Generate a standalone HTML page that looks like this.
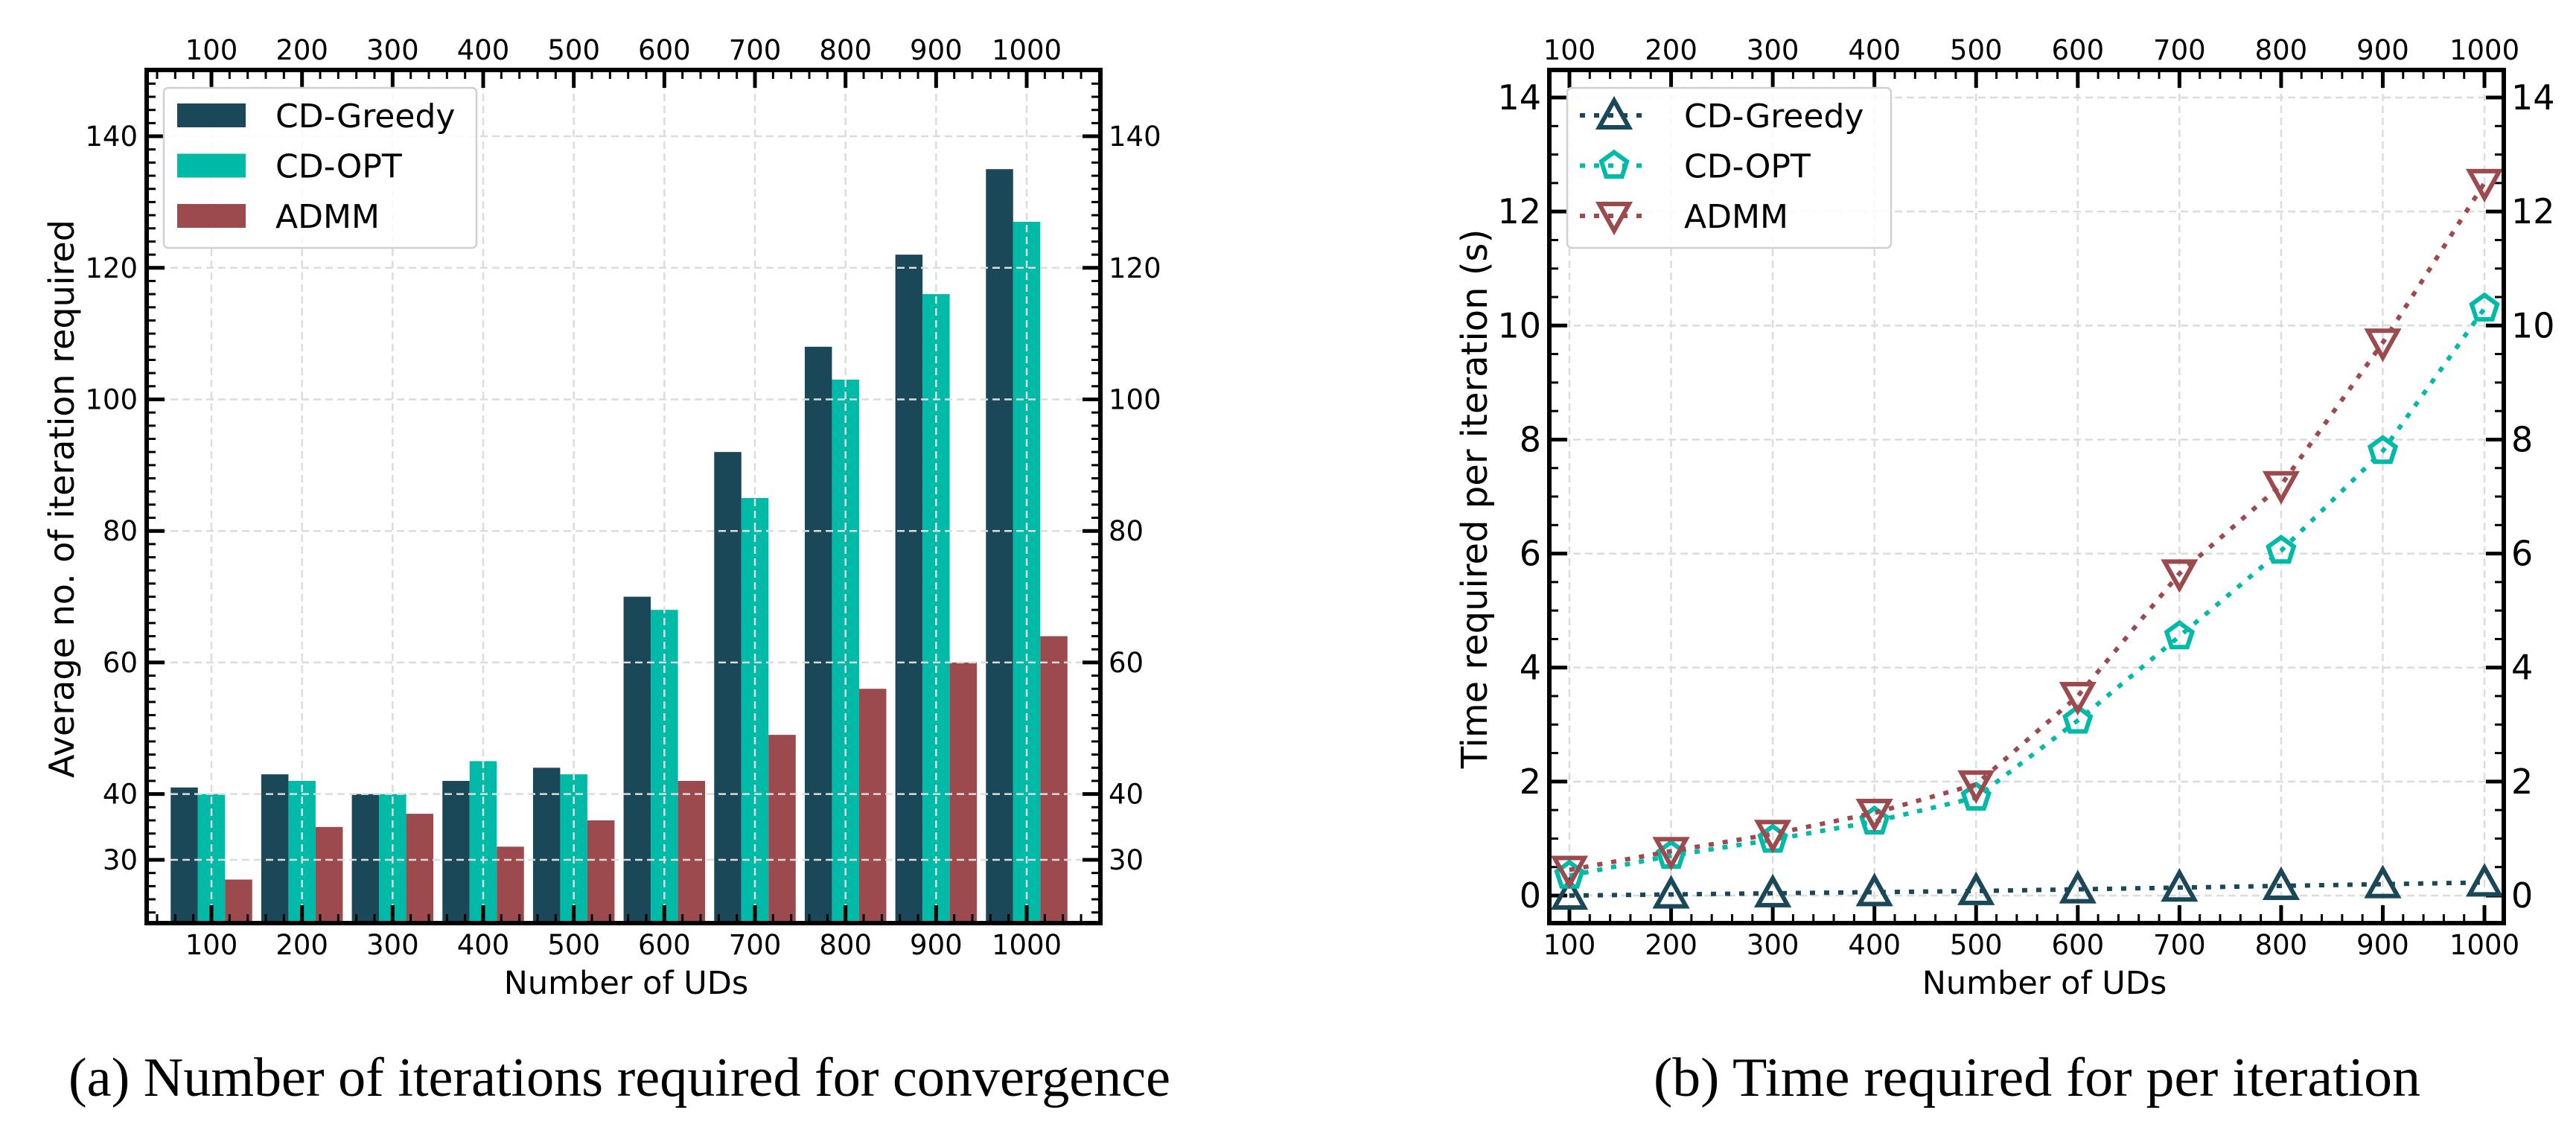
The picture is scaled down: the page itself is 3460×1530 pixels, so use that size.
<!DOCTYPE html>
<html><head><meta charset="utf-8"><style>
html,body{margin:0;padding:0;background:#fff;}
svg{display:block;}
text{font-family:"DejaVu Sans","Liberation Sans",sans-serif;fill:#000;}
.cap{font-family:"Liberation Serif",serif;}
</style></head><body>
<svg id="fig" width="3460" height="1530" viewBox="0 0 3460 1530" xmlns="http://www.w3.org/2000/svg">
<g id="chartA"></g>
<g id="chartB"></g>
<text class="cap" x="832" y="1472" font-size="74" text-anchor="middle" textLength="1480" lengthAdjust="spacingAndGlyphs">(a)  Number of iterations required for convergence</text>
<text class="cap" x="2736" y="1472" font-size="74" text-anchor="middle" textLength="1030" lengthAdjust="spacingAndGlyphs">(b)  Time required for per iteration</text>
</svg>
<script>
const categories = [100,200,300,400,500,600,700,800,900,1000];
const seriesNames = ["CD-Greedy","CD-OPT","ADMM"];
const barGreedy = [41,43,40,42,44,70,92,108,122,135];
const barOpt = [40,42,40,45,43,68,85,103,116,127];
const barAdmm = [27,35,37,32,36,42,49,56,60,64];
const barYTicks = [30,40,60,80,100,120,140];
const timeGreedy = [0,0.02,0.04,0.06,0.08,0.11,0.14,0.17,0.2,0.23];
const timeOpt = [0.35,0.7,0.98,1.3,1.72,3.07,4.55,6.05,7.8,10.3];
const timeAdmm = [0.45,0.78,1.08,1.45,1.95,3.5,5.65,7.2,9.7,12.5];
const timeYTicks = [0,2,4,6,8,10,12,14];

const NS="http://www.w3.org/2000/svg";
const colors=["#1a4858","#00baa8","#9c4a4e"];
function mk(parent,tag,attrs,txt){const e=document.createElementNS(NS,tag);for(const k in attrs)e.setAttribute(k,attrs[k]);if(txt!==undefined)e.textContent=txt;parent.appendChild(e);return e;}

// ---------- Chart A ----------
(function(){
const g=document.getElementById('chartA');
const L=197,R=1478,T=94,B=1240;
const xA=v=>284+(v-100)*1.2167;
const yA=v=>1155-(v-30)*8.836;
const bw=36.5;
const sets=[barGreedy,barOpt,barAdmm];
sets.forEach((arr,si)=>{
 arr.forEach((v,i)=>{
  const cx=xA(categories[i])+(si-1)*bw;
  const r=mk(g,'rect',{x:cx-bw/2,y:yA(v),width:bw,height:B-yA(v),fill:colors[si]});
  
  
 });
});
barYTicks.forEach(v=>{const l=mk(g,'line',{x1:L,x2:R,y1:yA(v),y2:yA(v),stroke:'#dcdcdc','stroke-width':2.5,'stroke-dasharray':'10 6'});
 });
categories.forEach(v=>{const l=mk(g,'line',{x1:xA(v),x2:xA(v),y1:T,y2:B,stroke:'#dcdcdc','stroke-width':2.5,'stroke-dasharray':'10 6'});
 });
for(let v=20;v<=1100;v+=20){const x=xA(v);if(x<L+2||x>R-2)continue;const maj=v%100===0&&v>=100&&v<=1000;const len=maj?24:12,w=maj?5:3;
 mk(g,'line',{x1:x,x2:x,y1:B,y2:B-len,stroke:'#000','stroke-width':w});mk(g,'line',{x1:x,x2:x,y1:T,y2:T+len,stroke:'#000','stroke-width':w});}
for(let v=22;v<=150;v+=2){const y=yA(v);if(y<T+2||y>B-2)continue;const maj=barYTicks.includes(v);const len=maj?24:12,w=maj?5:3;
 mk(g,'line',{x1:L,x2:L+len,y1:y,y2:y,stroke:'#000','stroke-width':w});mk(g,'line',{x1:R,x2:R-len,y1:y,y2:y,stroke:'#000','stroke-width':w});}
categories.forEach(v=>{
 const t=mk(g,'text',{x:xA(v),y:1282,'font-size':37,'text-anchor':'middle'},String(v));
 const t2=mk(g,'text',{x:xA(v),y:80,'font-size':37,'text-anchor':'middle'},String(v));
});
barYTicks.forEach(v=>{
 const t=mk(g,'text',{x:185,y:yA(v)+13,'font-size':37,'text-anchor':'end'},String(v));
 const t2=mk(g,'text',{x:1489,y:yA(v)+13,'font-size':37,'text-anchor':'start'},String(v));
});
const sp=mk(g,'rect',{x:L,y:T,width:R-L,height:B-T,fill:'none',stroke:'#000','stroke-width':6});

const xl=mk(g,'text',{x:841,y:1335,'font-size':43,'text-anchor':'middle'},'Number of UDs');

const yl=mk(g,'text',{x:0,y:0,'font-size':46,'text-anchor':'middle',transform:'translate(99,670) rotate(-90)'},'Average no. of iteration required');

const lg=mk(g,'g',{});
mk(lg,'rect',{x:220,y:118,width:420,height:215,rx:6,fill:'rgba(255,255,255,0.85)',stroke:'#d0d0d0','stroke-width':2.5});
seriesNames.forEach((n,i)=>{const cy=155+i*67.5;
 const e=mk(lg,'g',{});
 mk(e,'rect',{x:238,y:cy-16,width:92,height:32,fill:colors[i]});
 mk(e,'text',{x:370,y:cy+16,'font-size':44},n);});
})();

// ---------- Chart B ----------
(function(){
const g=document.getElementById('chartB');
const L=2081,R=3363,T=94,B=1240;
const xB=v=>2108+(v-100)*1.3656;
const yB=v=>1203-v*76.57;
timeYTicks.forEach(v=>{const l=mk(g,'line',{x1:L,x2:R,y1:yB(v),y2:yB(v),stroke:'#dcdcdc','stroke-width':2.5,'stroke-dasharray':'10 6'});
 });
categories.forEach(v=>{const l=mk(g,'line',{x1:xB(v),x2:xB(v),y1:T,y2:B,stroke:'#dcdcdc','stroke-width':2.5,'stroke-dasharray':'10 6'});
 });
for(let v=80;v<=1020;v+=20){const x=xB(v);if(x<L+2||x>R-2)continue;const maj=v%100===0;const len=maj?24:12,w=maj?5:3;
 mk(g,'line',{x1:x,x2:x,y1:B,y2:B-len,stroke:'#000','stroke-width':w});mk(g,'line',{x1:x,x2:x,y1:T,y2:T+len,stroke:'#000','stroke-width':w});}
for(let k=-1;k<=29;k++){const v=k*0.5;const y=yB(v);if(y<T+2||y>B-2)continue;const maj=k%4===0;const len=maj?24:12,w=maj?5:3;
 mk(g,'line',{x1:L,x2:L+len,y1:y,y2:y,stroke:'#000','stroke-width':w});mk(g,'line',{x1:R,x2:R-len,y1:y,y2:y,stroke:'#000','stroke-width':w});}
categories.forEach(v=>{
 const t=mk(g,'text',{x:xB(v),y:1282,'font-size':37,'text-anchor':'middle'},String(v));
 const t2=mk(g,'text',{x:xB(v),y:80,'font-size':37,'text-anchor':'middle'},String(v));
});
timeYTicks.forEach(v=>{
 const t=mk(g,'text',{x:2070,y:yB(v)+16,'font-size':46,'text-anchor':'end'},String(v));
 const t2=mk(g,'text',{x:3373,y:yB(v)+16,'font-size':46,'text-anchor':'start'},String(v));
});
function marker(parent,kind,cx,cy,c){
 if(kind===0) return mk(parent,'polygon',{points:`${cx},${cy-20} ${cx+20},${cy+16} ${cx-20},${cy+16}`,fill:'none',stroke:c,'stroke-width':6,'stroke-linejoin':'miter'});
 if(kind===2) return mk(parent,'polygon',{points:`${cx},${cy+20} ${cx+20},${cy-16} ${cx-20},${cy-16}`,fill:'none',stroke:c,'stroke-width':6});
 const pts=[];for(let k=0;k<5;k++){const a=-Math.PI/2+k*2*Math.PI/5;pts.push((cx+18*Math.cos(a)).toFixed(1)+','+(cy+18*Math.sin(a)).toFixed(1));}
 return mk(parent,'polygon',{points:pts.join(' '),fill:'none',stroke:c,'stroke-width':6});
}
const series=[timeGreedy,timeOpt,timeAdmm];
series.forEach((arr,si)=>{
 const sg=mk(g,'g',{});
 const pts=arr.map((v,i)=>xB(categories[i]).toFixed(1)+','+yB(v).toFixed(1)).join(' ');
 mk(sg,'polyline',{points:pts,fill:'none',stroke:colors[si],'stroke-width':6,'stroke-dasharray':'7 12'});
 arr.forEach((v,i)=>{const m=marker(sg,si,xB(categories[i]),yB(v),colors[si]);});
});
const sp=mk(g,'rect',{x:L,y:T,width:R-L,height:B-T,fill:'none',stroke:'#000','stroke-width':6});

const xl=mk(g,'text',{x:2746,y:1335,'font-size':43,'text-anchor':'middle'},'Number of UDs');

const yl=mk(g,'text',{x:0,y:0,'font-size':48,'text-anchor':'middle',transform:'translate(1997,670) rotate(-90)'},'Time required per iteration (s)');

const lg=mk(g,'g',{});
mk(lg,'rect',{x:2105,y:118,width:435,height:215,rx:6,fill:'rgba(255,255,255,0.85)',stroke:'#d0d0d0','stroke-width':2.5});
seriesNames.forEach((n,i)=>{const cy=155+i*67.5;
 const e=mk(lg,'g',{});
 mk(e,'line',{x1:2122,x2:2215,y1:cy,y2:cy,stroke:colors[i],'stroke-width':6,'stroke-dasharray':'7 12'});
 marker(e,i,2168,cy,colors[i]);
 mk(e,'text',{x:2262,y:cy+16,'font-size':44},n);});
})();
</script>
</body></html>
